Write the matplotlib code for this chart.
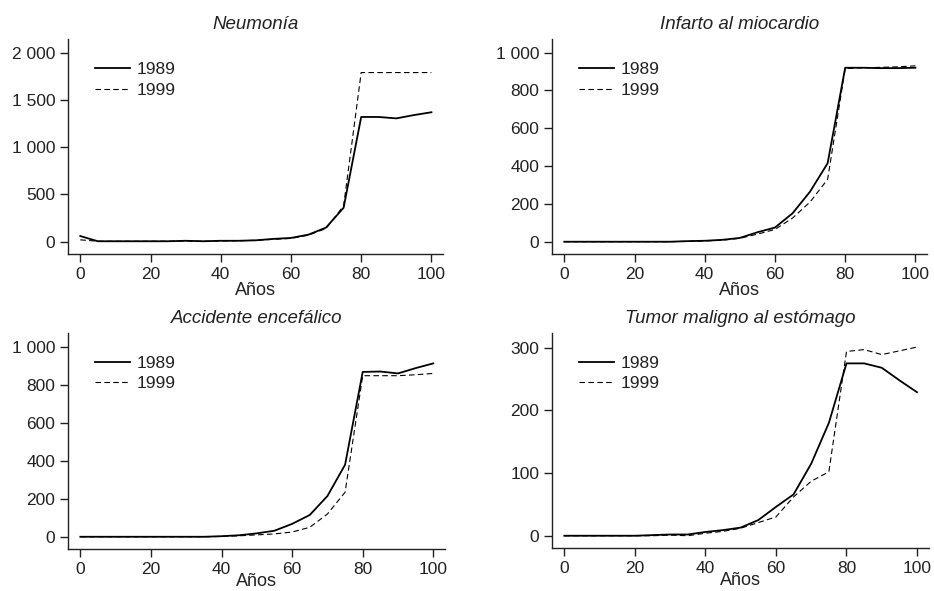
import matplotlib
matplotlib.use('Agg')
import matplotlib.pyplot as plt
from matplotlib.ticker import FuncFormatter

plt.rcParams['font.family'] = ['Liberation Sans', 'DejaVu Sans']

edades = [0, 5, 10, 15, 20, 25, 30, 35, 40, 45, 50, 55, 60, 65, 70, 75, 80, 85, 90, 95, 100]

titulos = ['Neumonía', 'Infarto al miocardio', 'Accidente encefálico', 'Tumor maligno al estómago']

# Neumonía
neu_1989 = [60, 5, 5, 5, 5, 5, 10, 5, 10, 10, 15, 30, 40, 75, 150, 360, 1320, 1320, 1305, 1340, 1370]
neu_1999 = [20, 5, 5, 5, 5, 5, 8, 5, 8, 10, 15, 25, 35, 70, 140, 380, 1790, 1790, 1790, 1790, 1790]
# Infarto al miocardio
inf_1989 = [0, 0, 0, 0, 0, 0, 0, 3, 5, 10, 20, 50, 75, 150, 265, 415, 920, 920, 918, 918, 920]
inf_1999 = [0, 0, 0, 0, 0, 0, 0, 2, 4, 8, 18, 40, 65, 125, 210, 330, 915, 920, 922, 925, 930]
# Accidente encefálico
acc_1989 = [0, 0, 0, 0, 0, 0, 0, 0, 3, 8, 18, 32, 68, 115, 215, 380, 870, 872, 862, 890, 915]
acc_1999 = [0, 0, 0, 0, 0, 0, 0, 0, 2, 5, 10, 15, 25, 50, 120, 235, 850, 850, 850, 855, 862]
# Tumor maligno al estómago
tum_1989 = [0, 0, 0, 0, 0, 1, 2, 2, 6, 9, 13, 25, 46, 66, 115, 180, 275, 275, 268, 248, 229]
tum_1999 = [0, 0, 0, 0, 0, 0, 1, 0, 4, 7, 12, 21, 30, 62, 87, 102, 294, 297, 289, 295, 301]

series = [(neu_1989, neu_1999), (inf_1989, inf_1999), (acc_1989, acc_1999), (tum_1989, tum_1999)]
yticks = [[0, 500, 1000, 1500, 2000], [0, 200, 400, 600, 800, 1000],
          [0, 200, 400, 600, 800, 1000], [0, 100, 200, 300]]
ylims = [(-130, 2145), (-65, 1072), (-66, 1077), (-20, 324)]

# posiciones de los paneles (fraccion de la figura)
pos = [[0.0728, 0.5702, 0.4015, 0.3638], [0.591, 0.5702, 0.4015, 0.3638],
       [0.0728, 0.0706, 0.4036, 0.3665], [0.591, 0.0723, 0.4033, 0.3648]]

col = '#222222'
miles = FuncFormatter(lambda v, p: f'{int(v):,}'.replace(',', ' '))

fig = plt.figure(figsize=(9.34, 5.91), dpi=100)
for i in range(4):
    ax = fig.add_axes(pos[i])
    a, b = series[i]
    ax.plot(edades, a, color='black', lw=1.3, label='1989')
    ax.plot(edades, b, color='black', lw=0.8, ls=(0, (5, 3)), label='1999')
    ax.set_xlim(-3.5, 103.3)
    ax.set_ylim(*ylims[i])
    ax.set_xticks([0, 20, 40, 60, 80, 100])
    ax.set_yticks(yticks[i])
    ax.yaxis.set_major_formatter(miles)
    ax.spines['top'].set_visible(False)
    ax.spines['right'].set_visible(False)
    for s in ['left', 'bottom']:
        ax.spines[s].set_linewidth(1.0)
        ax.spines[s].set_color(col)
    ax.tick_params(direction='out', length=6, width=1.0, colors=col, labelsize=12.5, labelcolor=col, pad=3)
    # abajo el texto queda justo en el borde
    ax.set_xlabel('Años', fontsize=13, color=col, labelpad=0 if i < 2 else -3)
    ax.set_title(titulos[i], fontsize=13.5, style='italic', color=col, pad=7)
    ax.legend(loc='upper left', frameon=False, fontsize=12.5, handlelength=2.0,
              handletextpad=0.4, labelspacing=0.3, bbox_to_anchor=(0.03, 0.965),
              labelcolor=col)

fig.savefig('out.png', dpi=100)
